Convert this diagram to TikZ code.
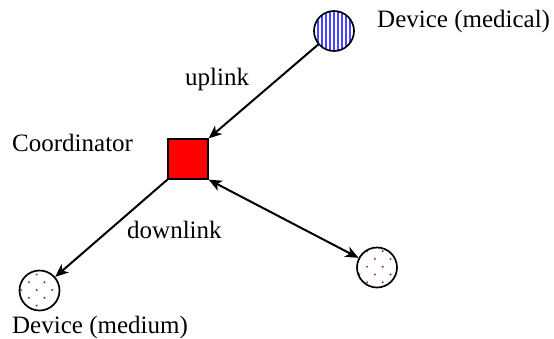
\documentclass[tikz,border=0pt]{standalone}
\usepackage{fontspec}
\setmainfont{Liberation Serif}
\usetikzlibrary{arrows.meta}
\definecolor{dotred}{RGB}{170,40,40}
\definecolor{stripeblue}{RGB}{70,70,255}
\tikzset{
  dev/.style={circle, draw, line width=1.7bp, minimum size=40bp, inner sep=0pt, fill=white},
  stripes/.style={path picture={
      \foreach \i in {-24,-20,...,24}
        \draw[stripeblue, line width=2.8bp]
          ([shift={(\i,0)}]path picture bounding box.north) --
          ([shift={(\i,0)}]path picture bounding box.south);}},
  dots/.style 2 args={path picture={
      \foreach \a in {-2,...,2} \foreach \b in {-2,...,2} {
        \fill[dotred] ([shift={(#1+2*\a*7.8,#2+2*\b*7.8)}]path picture bounding box.center) circle (1.1bp);
        \fill[dotred] ([shift={(#1+2*\a*7.8+7.8,#2+2*\b*7.8+7.8)}]path picture bounding box.center) circle (1.1bp);
      }}},
  coordbox/.style={rectangle, draw, line width=1.3bp, fill=red, minimum size=40bp, inner sep=0pt},
  lbl/.style={anchor=base west, inner sep=0pt, font=\fontsize{25bp}{30bp}\selectfont},
  link/.style={line width=2bp, -{Stealth[length=13bp,width=11bp,inset=3.5bp]}},
  duplex/.style={line width=2bp, {Stealth[length=13bp,width=11bp,inset=3.5bp]}-{Stealth[length=13bp,width=11bp,inset=3.5bp]}}
}
\begin{document}
\begin{tikzpicture}[x=1bp,y=-1bp]
  \useasboundingbox (0,0) rectangle (554,338);
  \node[dev, stripes] (med) at (334,31) {};
  \node[coordbox] (sq) at (188,159) {};
  \node[dev, dots={-2.8}{-0.5}] (mid) at (39.5,290.5) {};
  \node[dev, dots={5.7}{-0.8}] (rt) at (377,267.5) {};
  \node[lbl] (tmed) at (377,27) {Device (medical)};
  \node[lbl] (tco) at (12,151) {Coordinator};
  \node[lbl] (tup) at (185,85) {uplink};
  \node[lbl] (tdown) at (127,238) {downlink};
  \node[lbl] (tmid) at (12,333) {Device (medium)};
  \draw[link] (med) -- (sq.north east);
  \draw[link] (sq.south west) -- (mid);
  \draw[duplex] (sq.south east) -- (rt);
\end{tikzpicture}
\end{document}
